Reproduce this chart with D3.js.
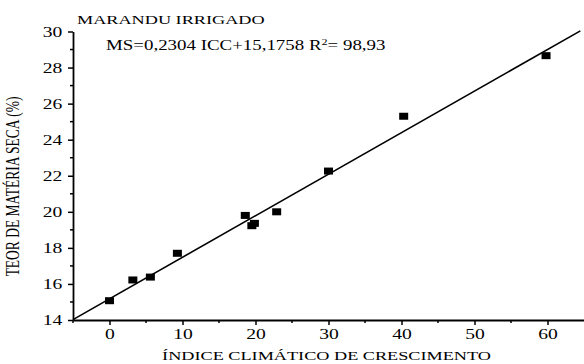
<!DOCTYPE html>
<html>
<head>
<meta charset="utf-8">
<script src="https://cdn.jsdelivr.net/npm/d3@7"></script>
<style>
  body { margin: 0; background: #fff; }
  text { font-family: "Liberation Serif", "Times New Roman", serif; fill: #000; }
</style>
</head>
<body>
<svg id="chart"></svg>
<script>
// measured points
var icc = [0, 3.2, 5.6, 9.3, 18.6, 19.5, 19.85, 22.9, 30.0, 40.3, 59.8];
var ms  = [15.07, 16.22, 16.38, 17.7, 19.8, 19.23, 19.36, 20.0, 22.26, 25.3, 28.66];
var xTicks = [0, 10, 20, 30, 40, 50, 60];
var yTicks = [14, 16, 18, 20, 22, 24, 26, 28, 30];
var slope = 0.2304, intercept = 15.1758;

var W = 584, H = 364;
var margin = {top: 31.5, right: 0, bottom: 44, left: 73};
var width = W - margin.left - margin.right;
var height = H - margin.top - margin.bottom;
var sx = 1.35; // the original picture is stretched sideways

var svg = d3.select("#chart")
  .attr("width", W)
  .attr("height", H)
  .append("g")
    .attr("transform", "translate(" + margin.left + "," + margin.top + ")");

var x = d3.scaleLinear().domain([-5, 65]).range([0, width]);
var y = d3.scaleLinear().domain([14, 30]).range([height, 0]);

// fit line
svg.append("line")
  .attr("x1", x(-5)).attr("y1", y(slope * -5 + intercept))
  .attr("x2", x(64.5)).attr("y2", y(slope * 64.5 + intercept))
  .attr("stroke", "#000")
  .attr("stroke-width", 1.6);

svg.selectAll(".pt")
  .data(icc)
  .enter()
  .append("rect")
  .attr("class", "pt")
  .attr("x", function(d) { return x(d) - 4.5; })
  .attr("y", function(d, i) { return y(ms[i]) - 3.5; })
  .attr("width", 9)
  .attr("height", 7)
  .attr("fill", "#000");

// axes
var xAxis = svg.append("g")
  .attr("transform", "translate(0," + height + ")")
  .call(d3.axisBottom(x).tickValues(xTicks).tickSize(5).tickSizeOuter(0).tickPadding(4));
xAxis.append("g").selectAll("line")
  .data([-5, 5, 15, 25, 35, 45, 55])
  .enter().append("line")
  .attr("x1", function(d) { return x(d); }).attr("x2", function(d) { return x(d); })
  .attr("y1", 0).attr("y2", 3)
  .attr("stroke", "#000").attr("stroke-width", 1.5);

var yAxis = svg.append("g")
  .call(d3.axisLeft(y).tickValues(yTicks).tickSize(5).tickSizeOuter(0).tickPadding(3));
yAxis.append("g").selectAll("line")
  .data([15, 17, 19, 21, 23, 25, 27, 29])
  .enter().append("line")
  .attr("y1", function(d) { return y(d); }).attr("y2", function(d) { return y(d); })
  .attr("x1", 0).attr("x2", -3)
  .attr("stroke", "#000").attr("stroke-width", 1.5);

svg.selectAll(".domain").attr("stroke-width", 1.8);
svg.selectAll(".tick line").attr("stroke-width", 1.5);
svg.selectAll(".tick text")
  .attr("transform", "scale(" + sx + ",1)")
  .style("font-family", "Liberation Serif, serif")
  .style("font-size", "14.5px");

// titles
svg.append("text")
  .attr("transform", "translate(4,-8) scale(" + sx + ",1)")
  .style("font-size", "13.5px")
  .text("MARANDU IRRIGADO");

var eq = svg.append("text")
  .attr("transform", "translate(33,18) scale(" + sx + ",1)")
  .style("font-size", "14px");
eq.append("tspan").text("MS=0,2304 ICC+15,1758 R");
eq.append("tspan").attr("dy", -5).style("font-size", "9px").text("2");
eq.append("tspan").attr("dy", 5).text("= 98,93");

svg.append("text")
  .attr("transform", "translate(" + (x(30) - 2) + "," + (height + 40) + ") scale(" + sx + ",1)")
  .attr("text-anchor", "middle")
  .style("font-size", "13.5px")
  .text("ÍNDICE CLIMÁTICO DE CRESCIMENTO");

svg.append("text")
  .attr("transform", "translate(-54," + (186.5 - margin.top) + ") scale(" + sx + ",1) rotate(-90)")
  .attr("text-anchor", "middle")
  .style("font-size", "13.5px")
  .text("TEOR DE MATÉRIA SECA (%)");
</script>
</body>
</html>
